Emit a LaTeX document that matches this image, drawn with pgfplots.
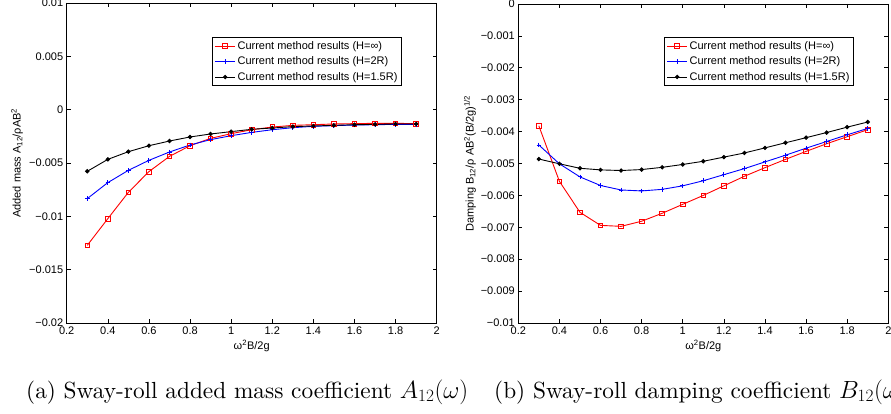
\documentclass[border=0pt]{standalone}
\usepackage{fontspec}
\setsansfont{Liberation Sans}
\newfontfamily\capfont{lmroman10-regular.otf}
\usepackage{pgfplots}
\pgfplotsset{compat=1.18}
\definecolor{mblue}{RGB}{0,0,255}
\definecolor{mred}{RGB}{255,0,0}

\pgfplotsset{
  mlab/.style={
    scale only axis,
    width=370pt,
    xmin=0.2, xmax=2,
    xtick={0.2,0.4,0.6,0.8,1,1.2,1.4,1.6,1.8,2},
    xticklabels={0.2,0.4,0.6,0.8,1,1.2,1.4,1.6,1.8,2},
    tick align=inside,
    major tick length=4pt,
    axis line style={line width=0.9pt},
    tick style={line width=0.6pt, black},
    font=\sffamily\fontsize{11}{13}\selectfont,
    xlabel={ω\textsuperscript{2}B/2g},
    legend style={anchor=north east, draw=black, line width=0.9pt,
      inner xsep=2pt, inner ysep=2pt, row sep=2pt,
      font=\sffamily\fontsize{11}{13}\selectfont},
    legend cell align=left,
    legend image code/.code={\draw[mark repeat=2,mark phase=2] plot coordinates {(0cm,0cm) (0.35cm,0cm) (0.7cm,0cm)};},
  },
  hinf/.style={color=mred, line width=0.9pt, mark=square, mark size=2.3pt, mark options={solid, mred, line width=0.8pt}},
  htwo/.style={color=mblue, line width=0.9pt, mark=+, mark size=2.3pt, mark options={solid, mblue, line width=0.9pt}},
  hone/.style={color=black, line width=0.9pt, mark=*, mark size=1.7pt, mark options={solid, black}},
}
\tikzset{capw/.style={anchor=base west, inner sep=0pt, font=\capfont\fontsize{23.3}{27}\selectfont}}

\begin{document}
\begin{tikzpicture}
\path[use as bounding box] (0,0) rectangle (891pt,-414pt);

% (a) added mass
\begin{axis}[mlab,
  at={(66.7pt,-323pt)}, anchor=south west,
  height=320pt,
  ymin=-0.02, ymax=0.01,
  ytick={-0.02,-0.015,-0.01,-0.005,0,0.005,0.01},
  yticklabels={−0.02,−0.015,−0.01,−0.005,0,0.005,0.01},
  ylabel={Added mass A\textsubscript{12}/ρAB\textsuperscript{2}},
  ylabel style={at={(axis description cs:-0.134,0.5)}, anchor=center},
  xlabel style={at={(axis description cs:0.5,-0.072)}, anchor=center},
  legend style={at={(0.906,0.894)}},
]
\addplot[hinf] coordinates {
(0.3,-0.01272) (0.4,-0.01022) (0.5,-0.00775) (0.6,-0.00581) (0.7,-0.00438)
(0.8,-0.00338) (0.9,-0.00269) (1.0,-0.00225) (1.1,-0.00188) (1.2,-0.00163)
(1.3,-0.00147) (1.4,-0.00141) (1.5,-0.00134) (1.6,-0.00131) (1.7,-0.00128)
(1.8,-0.00128) (1.9,-0.00131)};
\addplot[htwo] coordinates {
(0.3,-0.00834) (0.4,-0.00684) (0.5,-0.00569) (0.6,-0.00475) (0.7,-0.00397)
(0.8,-0.00331) (0.9,-0.00281) (1.0,-0.00244) (1.1,-0.00213) (1.2,-0.00188)
(1.3,-0.00169) (1.4,-0.00156) (1.5,-0.00150) (1.6,-0.00144) (1.7,-0.00141)
(1.8,-0.00138) (1.9,-0.00138)};
\addplot[hone] coordinates {
(0.3,-0.00578) (0.4,-0.00466) (0.5,-0.00394) (0.6,-0.00338) (0.7,-0.00294)
(0.8,-0.00256) (0.9,-0.00228) (1.0,-0.00206) (1.1,-0.00184) (1.2,-0.00172)
(1.3,-0.00159) (1.4,-0.00153) (1.5,-0.00147) (1.6,-0.00141) (1.7,-0.00138)
(1.8,-0.00134) (1.9,-0.00134)};
\legend{Current method results (H=∞), Current method results (H=2R), Current method results (H=1.5R)}
\end{axis}

% (b) damping
\begin{axis}[mlab,
  at={(518.3pt,-323pt)}, anchor=south west,
  height=319pt,
  ymin=-0.01, ymax=0,
  ytick={-0.01,-0.009,-0.008,-0.007,-0.006,-0.005,-0.004,-0.003,-0.002,-0.001,0},
  yticklabels={−0.01,−0.009,−0.008,−0.007,−0.006,−0.005,−0.004,−0.003,−0.002,−0.001,0},
  ylabel={Damping B\textsubscript{12}/ρ AB\textsuperscript{2}(B/2g)\textsuperscript{1/2}},
  ylabel style={at={(axis description cs:-0.1305,0.5)}, anchor=center},
  xlabel style={at={(axis description cs:0.5,-0.072)}, anchor=center},
  legend style={at={(0.907,0.897)}},
]
\addplot[hinf] coordinates {
(0.3,-0.00382) (0.4,-0.00556) (0.5,-0.00653) (0.6,-0.00694) (0.7,-0.00697)
(0.8,-0.00681) (0.9,-0.00656) (1.0,-0.00628) (1.1,-0.00600) (1.2,-0.00570)
(1.3,-0.00540) (1.4,-0.00513) (1.5,-0.00487) (1.6,-0.00462) (1.7,-0.00438)
(1.8,-0.00416) (1.9,-0.00394)};
\addplot[htwo] coordinates {
(0.3,-0.00442) (0.4,-0.00501) (0.5,-0.00542) (0.6,-0.00569) (0.7,-0.00583)
(0.8,-0.00586) (0.9,-0.00581) (1.0,-0.00570) (1.1,-0.00554) (1.2,-0.00535)
(1.3,-0.00516) (1.4,-0.00495) (1.5,-0.00474) (1.6,-0.00452) (1.7,-0.00431)
(1.8,-0.00410) (1.9,-0.00390)};
\addplot[hone] coordinates {
(0.3,-0.00486) (0.4,-0.00501) (0.5,-0.00515) (0.6,-0.00520) (0.7,-0.00522)
(0.8,-0.00519) (0.9,-0.00512) (1.0,-0.00503) (1.1,-0.00493) (1.2,-0.00480)
(1.3,-0.00467) (1.4,-0.00451) (1.5,-0.00435) (1.6,-0.00419) (1.7,-0.00403)
(1.8,-0.00386) (1.9,-0.00370)};
\legend{Current method results (H=∞), Current method results (H=2R), Current method results (H=1.5R)}
\end{axis}

% sub-captions
\node[capw] at (26pt,-398pt) {(a) Sway-roll added mass coefficient $A_{12}(\omega)$};
\node[capw] at (494pt,-398pt) {(b) Sway-roll damping coefficient $B_{12}(\omega)$};
\end{tikzpicture}
\end{document}
